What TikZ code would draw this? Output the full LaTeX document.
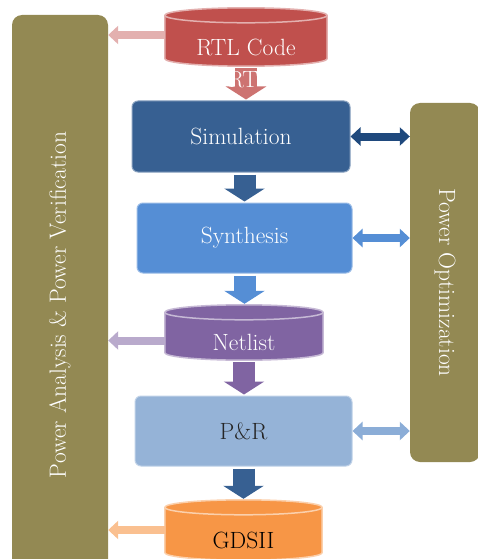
\documentclass[tikz,border=0pt]{standalone}
\usepackage{fontspec}
\usetikzlibrary{arrows.meta, calc, backgrounds}

\definecolor{barolive}{HTML}{938953}
\definecolor{rtlred}{HTML}{C0504D}
\definecolor{simblue}{HTML}{376092}
\definecolor{synblue}{HTML}{558ED5}
\definecolor{netpurple}{HTML}{8064A2}
\definecolor{prblue}{HTML}{95B3D7}
\definecolor{gdsorange}{HTML}{F79646}
\definecolor{navy}{HTML}{1F497D}

% cylinder drawn behind a named node: #1 node, #2 colour
\newcommand\drumshape[2]{%
  \path let \p1=(#1.north west), \p2=(#1.south east), \n1={(\x2-\x1)/2}, \n2={7.5pt} in
    [fill=#2, draw=#2!45!white, line width=1.5pt]
    (\x1,{\y1-\n2}) -- (\x1,{\y2+\n2})
    arc[start angle=180, end angle=360, x radius=\n1, y radius=\n2]
    -- (\x2,{\y1-\n2})
    arc[start angle=0, end angle=180, x radius=\n1, y radius=\n2] -- cycle;
  \draw[#2!45!white, line width=1.5pt] let \p1=(#1.north west), \p2=(#1.south east),
    \n1={(\x2-\x1)/2}, \n2={7.5pt} in
    (\x1,{\y1-\n2}) arc[start angle=180, end angle=360, x radius=\n1, y radius=\n2];
}

\tikzset{
  box/.style={rectangle, rounded corners=6pt, fill=#1, draw=#1!60!white, line width=1pt,
    minimum width=216pt, minimum height=70pt, text=white},
  drum/.style={rectangle, inner sep=0pt, minimum width=160pt, minimum height=58pt},
  drumtext/.style 2 args={label={[text=#1, yshift=-10pt]center:#2}},
  bar/.style={rectangle, rounded corners=10pt, fill=barolive, text=white},
  down/.style={draw=#1, line width=22pt, -{Triangle[width=40pt,length=13pt]},
    shorten >=1pt, shorten <=2pt},
  side/.style={draw=#1, line width=8pt, -{Triangle[width=18pt,length=10pt]}},
  both/.style={draw=#1, line width=8pt,
    {Triangle[width=18pt,length=10pt]}-{Triangle[width=18pt,length=10pt]}},
}

\begin{document}
\begin{tikzpicture}[x=1pt, y=1pt, font=\fontsize{23.5}{27}\selectfont]
  \useasboundingbox (0,0) rectangle (477,-559);

  % side bars
  \node[bar, rotate=90, minimum width=580pt, minimum height=96pt] (lbar) at (60,-305)
    {Power Analysis \& Power Verification};
  \node[bar, rotate=-90, minimum width=359pt, minimum height=70pt] (rbar) at (445,-282.5)
    {Power Optimization};

  % flow
  \node[drum, minimum width=162pt, drumtext={white}{RTL Code}] (rtl) at (246,-37) {};
  \node[box=simblue, minimum width=218pt, minimum height=71pt] (sim) at (241,-136.5) {Simulation};
  \node[box=synblue, minimum width=215pt] (syn) at (244.5,-238) {Synthesis};
  \node[drum, minimum width=158pt, minimum height=55pt, drumtext={white}{Netlist}]
    (net) at (244,-332.5) {};
  \node[box=prblue, minimum width=217pt, text=black!85] (pr) at (243.5,-431) {P\&R};
  \node[drum, minimum width=157pt, minimum height=60pt, drumtext={black}{GDSII}]
    (gds) at (243.5,-530) {};

  \begin{scope}[on background layer]
    \drumshape{rtl}{rtlred}
    \drumshape{net}{netpurple}
    \drumshape{gds}{gdsorange}
  \end{scope}

  \draw[down=rtlred!80!white] (rtl.south) -- (rtl.south |- sim.north);
  \node[text=white] (rt) at (243,-80) {RT};
  \draw[down=simblue] (sim.south -| syn.north) -- (syn.north);
  \draw[down=synblue] (syn.south) -- (syn.south |- net.north);
  \draw[down=netpurple] (net.south) -- (net.south |- pr.north);
  \draw[down=simblue] (pr.south) -- (pr.south |- gds.north);

  % to the left bar
  \draw[side=rtlred!45!white] ([yshift=2pt]rtl.west) -- ([yshift=2pt]rtl.west -| lbar.south);
  \draw[side=netpurple!55!white] ([yshift=-8pt]net.west) -- ([yshift=-8pt]net.west -| lbar.south);
  \draw[side=gdsorange!60!white] (gds.west) -- (gds.west -| lbar.south);

  % to the right bar
  \draw[both=navy] (sim.east) -- (sim.east -| rbar.south);
  \draw[both=synblue] (syn.east) -- (syn.east -| rbar.south);
  \draw[both=prblue!85!synblue] (pr.east) -- (pr.east -| rbar.south);
\end{tikzpicture}
\end{document}
